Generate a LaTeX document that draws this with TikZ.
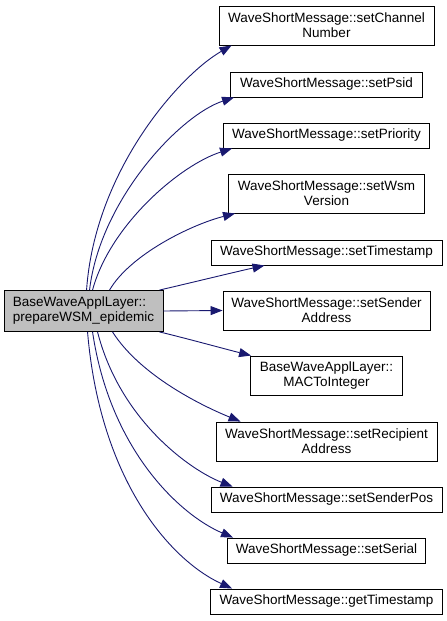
\documentclass[tikz,border=0pt]{standalone}
\usepackage{fontspec}
\setmainfont{Liberation Sans}
\usetikzlibrary{arrows.meta}
\definecolor{edgeblue}{HTML}{191970}
\definecolor{mainfill}{HTML}{BFBFBF}
\begin{document}
\begin{tikzpicture}[x=1pt,y=-1pt,
  box/.style={draw=black, line width=0.9pt, fill=white, rectangle, inner sep=0pt,
              align=center, font=\fontsize{13.5}{15}\selectfont},
  onel/.style={box, minimum height=25pt},
  twol/.style={box, minimum height=39pt},
  call/.style={draw=edgeblue, line width=0.9pt, -{Triangle[length=12pt,width=9pt]}}]
\useasboundingbox (0,0) rectangle (447,621);

\node[box, fill=mainfill, align=left, minimum width=159pt, minimum height=41pt] (main) at (83.5,311)
  {BaseWaveApplLayer::\\prepareWSM\_epidemic};

\node[twol, minimum width=215pt] (n1) at (326.5,25.5) {WaveShortMessage::setChannel\\Number};
\node[onel, minimum width=192pt] (n2) at (326.5,84.5) {WaveShortMessage::setPsid};
\node[onel, minimum width=206pt] (n3) at (326.5,135.5) {WaveShortMessage::setPriority};
\node[twol, minimum width=196pt] (n4) at (326.5,193.5) {WaveShortMessage::setWsm\\Version};
\node[onel, minimum width=231pt] (n5) at (326.5,252.5) {WaveShortMessage::setTimestamp};
\node[twol, minimum width=207pt] (n6) at (326.5,310.5) {WaveShortMessage::setSender\\Address};
\node[twol, minimum width=152pt] (n7) at (326.5,375.5) {BaseWaveApplLayer::\\MACToInteger};
\node[twol, minimum width=221pt] (n8) at (326.5,441.5) {WaveShortMessage::setRecipient\\Address};
\node[onel, minimum width=231pt] (n9) at (326.5,499.5) {WaveShortMessage::setSenderPos};
\node[onel, minimum width=198pt] (n10) at (326.5,550.5) {WaveShortMessage::setSerial};
\node[onel, minimum width=232pt] (n11) at (326.5,601.5) {WaveShortMessage::getTimestamp};

\draw[call] ([xshift=83pt]main.north west) .. controls (95,170) and (180,75) .. ([xshift=13pt]n1.south west);
\draw[call] ([xshift=86pt]main.north west) .. controls (100,200) and (180,115) .. ([xshift=4pt]n2.south west);
\draw[call] ([xshift=89pt]main.north west) .. controls (110,225) and (180,165) .. ([xshift=9pt]n3.south west);
\draw[call] ([xshift=106pt]main.north west) .. controls (130,255) and (190,225) .. ([xshift=7pt]n4.south west);
\draw[call] ([xshift=156pt]main.north west) .. controls (190,283) and (235,272) .. ([xshift=54pt]n5.south west);
\draw[call] (main.east) -- (n6.west);
\draw[call] ([xshift=156pt]main.south west) .. controls (185,338) and (225,349) .. ([xshift=1pt]n7.north west);
\draw[call] ([xshift=109pt]main.south west) .. controls (140,375) and (200,405) .. ([xshift=25pt]n8.north west);
\draw[call] ([xshift=94pt]main.south west) .. controls (120,420) and (190,470) .. ([xshift=22pt]n9.north west);
\draw[call] ([xshift=89pt]main.south west) .. controls (110,450) and (180,515) .. ([xshift=6pt]n10.north west);
\draw[call] ([xshift=84pt]main.south west) .. controls (100,480) and (170,560) .. ([xshift=22pt]n11.north west);
\end{tikzpicture}
\end{document}
